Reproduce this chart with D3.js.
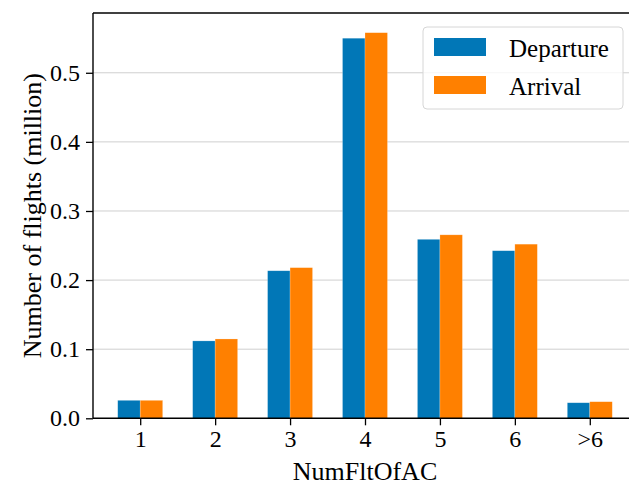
<!DOCTYPE html>
<html>
<head>
<meta charset="utf-8">
<script src="https://cdn.jsdelivr.net/npm/d3@7"></script>
<style>
  body { margin: 0; background: #fff; }
  svg, svg text { font-family: "Liberation Serif", "Times New Roman", serif; }
  svg { display: block; }
</style>
</head>
<body>
<div class="canvas"></div>
<script>
// chart data
const categories = ["1", "2", "3", "4", "5", "6", ">6"];
const departure = [0.026, 0.112, 0.2135, 0.550, 0.259, 0.2425, 0.0225];
const arrival = [0.026, 0.1148, 0.218, 0.558, 0.2655, 0.252, 0.024];
const yTicks = [0.0, 0.1, 0.2, 0.3, 0.4, 0.5];
const seriesNames = ["Departure", "Arrival"];
const seriesColors = ["#0177b7", "#ff8000"];

const dims = {width: 629, height: 486};
const plot = {left: 93, right: 637, top: 13, bottom: 418.3};
const barW = 0.3;
const serif = "'Liberation Serif', 'Times New Roman', serif";

const svg = d3.select(".canvas")
    .append("svg")
    .attr("width", dims.width)
    .attr("height", dims.height);

const x = d3.scaleLinear()
    .domain([-0.63, categories.length - 1 + 0.63])
    .range([plot.left, plot.right]);
const y = d3.scaleLinear()
    .domain([0, 0.5865])
    .range([plot.bottom, plot.top]);

// grid lines
svg.append("g")
    .selectAll("line")
    .data(yTicks.slice(1))
    .enter().append("line")
    .attr("x1", plot.left).attr("x2", plot.right)
    .attr("y1", d => y(d)).attr("y2", d => y(d))
    .attr("stroke", "#cfcfcf")
    .attr("stroke-width", 1);

// bars
const bars = svg.append("g");
[departure, arrival].forEach((vals, s) => {
    bars.selectAll(".bar-" + s)
        .data(vals)
        .enter().append("rect")
        .attr("class", "bar-" + s)
        .attr("x", (d, i) => x(i + (s - 1) * barW))
        .attr("width", x(barW) - x(0))
        .attr("y", d => y(d))
        .attr("height", d => y(0) - y(d))
        .attr("fill", seriesColors[s])
        .attr("stroke", "#ffffff")
        .attr("stroke-opacity", 0.35)
        .attr("stroke-width", 0.6);
});

// axes
const xAxis = d3.axisBottom(x)
    .tickValues(d3.range(categories.length))
    .tickFormat(i => categories[i])
    .tickSize(7)
    .tickPadding(5);
const yAxis = d3.axisLeft(y)
    .tickValues(yTicks)
    .tickFormat(d3.format(".1f"))
    .tickSize(7)
    .tickPadding(6);

const gx = svg.append("g")
    .attr("transform", `translate(0, ${plot.bottom})`)
    .call(xAxis);
const gy = svg.append("g")
    .attr("transform", `translate(${plot.left}, 0)`)
    .call(yAxis);

[gx, gy].forEach(g => {
    g.attr("font-family", serif).attr("font-size", 24);
    g.select(".domain").remove();
    g.selectAll(".tick line").attr("stroke", "#000").attr("stroke-width", 1.3);
    g.selectAll(".tick text").attr("fill", "#000");
});

// spines
const spines = svg.append("g")
    .attr("stroke", "#000")
    .attr("stroke-width", 1.4)
    .attr("fill", "none");
spines.append("line").attr("x1", plot.left).attr("x2", plot.left).attr("y1", plot.top).attr("y2", plot.bottom);
spines.append("line").attr("x1", plot.left).attr("x2", plot.right).attr("y1", plot.bottom).attr("y2", plot.bottom);
spines.append("line").attr("x1", plot.left).attr("x2", plot.right).attr("y1", plot.top).attr("y2", plot.top);
spines.append("line").attr("x1", plot.right).attr("x2", plot.right).attr("y1", plot.top).attr("y2", plot.bottom);

// axis labels
svg.append("text")
    .attr("x", (plot.left + plot.right) / 2)
    .attr("y", 480)
    .attr("text-anchor", "middle")
    .attr("font-family", serif)
    .attr("font-size", 26)
    .text("NumFltOfAC");

svg.append("text")
    .attr("transform", `translate(41, ${(plot.top + plot.bottom) / 2}) rotate(-90)`)
    .attr("text-anchor", "middle")
    .attr("font-family", serif)
    .attr("font-size", 26)
    .text("Number of flights (million)");

// legend
const legend = svg.append("g").attr("transform", "translate(423, 27)");
legend.append("rect")
    .attr("width", 200)
    .attr("height", 82)
    .attr("rx", 4)
    .attr("fill", "#fff")
    .attr("fill-opacity", 0.8)
    .attr("stroke", "#d6d6d6")
    .attr("stroke-width", 1);
seriesNames.forEach((name, i) => {
    legend.append("rect")
        .attr("x", 11)
        .attr("y", 11 + i * 38)
        .attr("width", 52)
        .attr("height", 18)
        .attr("fill", seriesColors[i]);
    legend.append("text")
        .attr("x", 86)
        .attr("y", 30 + i * 38)
        .attr("font-family", serif)
        .attr("font-size", 25)
        .text(name);
});
</script>
</body>
</html>
